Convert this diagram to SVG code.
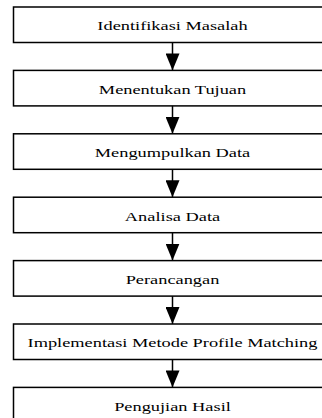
<svg xmlns="http://www.w3.org/2000/svg" width="322" height="418" viewBox="0 0 322 418">
<style>
.box{fill:#fff;stroke:#000;stroke-width:1.5}
.lbl{font-family:"Liberation Serif","Times New Roman",serif;font-size:12px;fill:#000;text-anchor:middle}
.conn{stroke:#000;stroke-width:1.5;fill:none}
</style>
<defs>
<marker id="ah" viewBox="0 0 17 14" refX="17" refY="7" markerWidth="17" markerHeight="14" markerUnits="userSpaceOnUse" orient="auto">
<path d="M0,0 L17,7 L0,14 Z" fill="#000"/>
</marker>
</defs>
<rect width="322" height="418" fill="#fff"/>
<g id="n1"><rect class="box" x="13.5" y="7" width="322" height="35.5"/><text class="lbl" transform="matrix(1.53 0 0 1 172.5 30.3)">Identifikasi Masalah</text></g>
<g id="n2"><rect class="box" x="13.5" y="70.4" width="322" height="35.5"/><text class="lbl" transform="matrix(1.53 0 0 1 172.5 93.7)">Menentukan Tujuan</text></g>
<g id="n3"><rect class="box" x="13.5" y="133.8" width="322" height="35.5"/><text class="lbl" transform="matrix(1.53 0 0 1 172.5 157.1)">Mengumpulkan Data</text></g>
<g id="n4"><rect class="box" x="13.5" y="197.2" width="322" height="35.5"/><text class="lbl" transform="matrix(1.53 0 0 1 172.5 220.5)">Analisa Data</text></g>
<g id="n5"><rect class="box" x="13.5" y="260.6" width="322" height="35.5"/><text class="lbl" transform="matrix(1.53 0 0 1 172.5 283.9)">Perancangan</text></g>
<g id="n6"><rect class="box" x="13.5" y="324" width="322" height="35.5"/><text class="lbl" transform="matrix(1.53 0 0 1 172.5 347.3)">Implementasi Metode Profile Matching</text></g>
<g id="n7"><rect class="box" x="13.5" y="387.4" width="322" height="40"/><text class="lbl" transform="matrix(1.53 0 0 1 172.5 410.7)">Pengujian Hasil</text></g>
<g id="connectors">
<line class="conn" x1="172.5" y1="42.5" x2="172.5" y2="70.4" marker-end="url(#ah)"/>
<line class="conn" x1="172.5" y1="105.9" x2="172.5" y2="133.8" marker-end="url(#ah)"/>
<line class="conn" x1="172.5" y1="169.3" x2="172.5" y2="197.2" marker-end="url(#ah)"/>
<line class="conn" x1="172.5" y1="232.7" x2="172.5" y2="260.6" marker-end="url(#ah)"/>
<line class="conn" x1="172.5" y1="296.1" x2="172.5" y2="324" marker-end="url(#ah)"/>
<line class="conn" x1="172.5" y1="359.5" x2="172.5" y2="387.4" marker-end="url(#ah)"/>
</g>
</svg>
